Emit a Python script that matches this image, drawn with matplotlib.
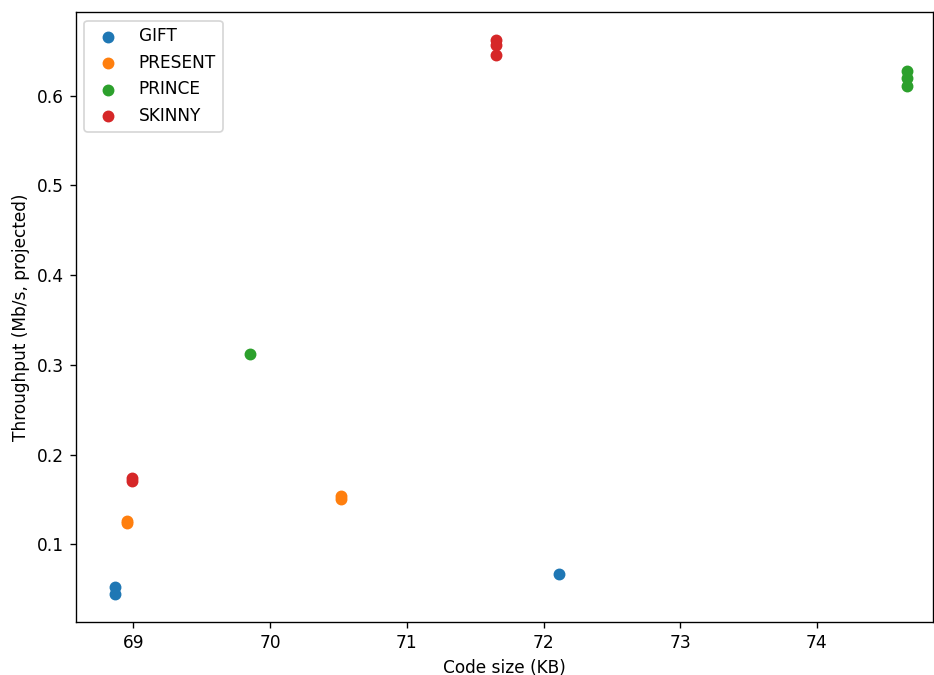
import matplotlib
matplotlib.use("Agg")
import matplotlib.pyplot as plt

ciphers = ["GIFT", "PRESENT", "PRINCE", "SKINNY"]
gift_x = [68.866, 68.866, 72.11]
gift_y = [0.052, 0.0443, 0.0666]
present_x = [68.954, 68.954, 70.52, 70.52]
present_y = [0.1265, 0.1240, 0.1540, 0.1510]
prince_x = [69.85, 74.66, 74.66, 74.66]
prince_y = [0.3116, 0.627, 0.620, 0.611]
skinny_x = [68.99, 68.99, 71.65, 71.65, 71.65]
skinny_y = [0.1735, 0.1700, 0.662, 0.656, 0.645]

series = [(gift_x, gift_y), (present_x, present_y), (prince_x, prince_y), (skinny_x, skinny_y)]

dpi = 122
fig = plt.figure(figsize=(934 / dpi, 675 / dpi), dpi=dpi)
ax = fig.add_axes([0.0814, 0.0785, 0.9176, 0.9035])
for name, (xs, ys) in zip(ciphers, series):
    ax.scatter(xs, ys, label=name)
ax.set_xlim(68.58, 74.85)
ax.set_xlabel("Code size (KB)")
ax.set_ylabel("Throughput (Mb/s, projected)")
ax.legend(loc="upper left")
fig.savefig("out.png", dpi=dpi)
